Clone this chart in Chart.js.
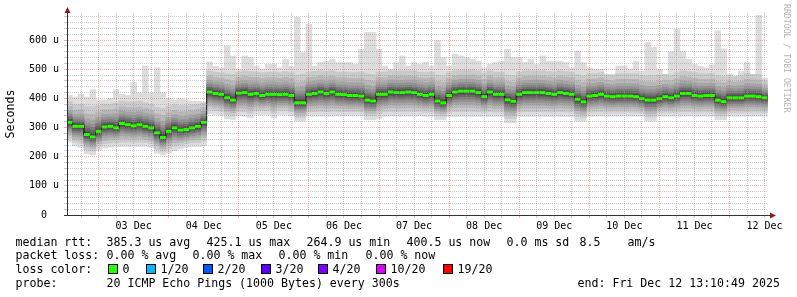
<!DOCTYPE html>
<html>
<head>
<meta charset="utf-8">
<script src="https://cdn.jsdelivr.net/npm/chart.js@4.4.1/dist/chart.umd.min.js"></script>
<style>
html, body { margin: 0; padding: 0; background: #fff; }
#wrap { position: relative; width: 797px; height: 297px; overflow: hidden; }
#c { position: absolute; left: 0; top: 0; }
.t { position: absolute; font: 11.6px "DejaVu Sans Mono", monospace; color: #000; white-space: pre; line-height: 14px; }
.box { position: absolute; width: 8px; height: 8px; border: 1px solid #000; }
#mark { position: absolute; left: 782px; top: 4px; font: 8.2px "DejaVu Sans Mono", monospace; color: #b4b4b4;
        writing-mode: vertical-rl; line-height: 10px; white-space: pre; }
</style>
</head>
<body>
<div id="wrap">
  <canvas id="c" width="797" height="297"></canvas>
  <div id="mark">RRDTOOL / TOBI OETIKER</div>
</div>
<script>
// 2-hour buckets from Dec 2 14:00 to Dec 12 12:00 (hours counted from Dec 2 00:00)
const START = 13.18, END = 253.18;
const dayLabels = ["03 Dec","04 Dec","05 Dec","06 Dec","07 Dec","08 Dec","09 Dec","10 Dec","11 Dec","12 Dec"];
const yLabels = ["0","100 u","200 u","300 u","400 u","500 u","600 u"];

// median rtt (microseconds)
const med = [
  318,304,304,276,268,287,302,304,299,314, 310,306,310,304,299,282,266,287,299,291,
  293,299,304,318,422,417,414,402,394,418, 420,414,417,410,414,414,413,414,410,385,
  385,414,417,422,417,422,414,413,410,410, 408,394,391,414,414,422,420,420,422,420,
  414,410,414,391,385,410,422,425,425,425, 420,406,422,414,414,395,390,414,420,420,
  420,420,417,414,420,417,414,397,388,408, 410,414,408,406,408,408,408,406,399,394,
  394,399,406,402,408,417,417,410,408,410, 410,394,389,402,402,402,408,408,406,402
];
// lowest ping
const pMin = [
  250,236,232,210,207,222,230,232,235,235, 235,235,235,235,232,212,206,212,220,226,
  232,235,235,238,348,345,342,330,328,340, 338,333,345,345,345,333,345,345,340,322,
  322,339,339,339,339,339,340,340,340,340, 340,327,327,330,339,339,339,339,339,339,
  340,338,338,327,327,338,338,338,338,338, 338,338,338,338,338,316,316,338,338,338,
  338,338,338,338,338,338,338,322,322,339, 339,339,339,339,339,339,339,339,339,322,
  322,339,339,339,339,339,339,339,339,339, 339,327,327,339,339,339,339,339,339,339
];
// second highest ping (top of the dense smoke)
const pHigh = [
  390,378,380,372,372,375,380,380,385,390, 388,388,390,385,380,370,365,372,378,375,
  375,378,380,385,495,490,488,485,482,490, 495,492,490,488,490,490,488,492,488,480,
  482,490,492,495,492,495,490,490,488,488, 490,485,482,490,490,495,495,495,495,495,
  490,488,490,480,478,488,495,498,498,498, 495,485,495,490,490,480,478,490,495,495,
  495,495,492,490,495,492,490,482,478,485, 485,488,480,478,485,485,485,485,478,478,
  478,480,482,480,488,495,492,488,485,485, 485,478,475,478,475,478,485,482,482,462
];
// highest ping
const pMax = [
  410,405,415,405,430,395,395,400,430,415, 410,455,420,512,420,505,420,400,395,400,
  395,390,390,385,525,510,505,580,545,500, 546,540,511,500,517,517,505,534,510,678,
  557,655,511,523,528,534,523,523,523,517, 569,626,626,569,511,500,523,546,511,523,
  517,523,511,598,540,511,552,546,540,534, 528,505,517,523,528,569,540,540,523,534,
  517,546,528,528,528,523,505,563,523,505, 500,500,483,483,511,511,500,528,494,592,
  575,500,483,560,638,563,534,517,510,505, 515,632,570,483,477,494,523,483,685,470
];

const rttStats = ["385.3 us avg","425.1 us max","264.9 us min","400.5 us now","0.0 ms sd","8.5","am/s"];
const lossStats = ["0.00 % avg","0.00 % max","0.00 % min","0.00 % now"];
const lossLevels = ["0","1/20","2/20","3/20","4/20","10/20","19/20"];
const lossColors = ["#26ff00","#00b8ff","#0059ff","#5e00ff","#7e00ff","#dd00ff","#ff0000"];
const probeText = "20 ICMP Echo Pings (1000 Bytes) every 300s";
const endText = "end: Fri Dec 12 13:10:49 2025";

const hours = med.map((_, i) => 14 + 2 * i);

// smoke bands, outermost first (smokeping style grey ramp)
const lowF = [1, 0.8, 0.65, 0.52, 0.41, 0.31, 0.22, 0.14, 0.08, 0.03];
const highF = [1, 1, 0.75, 0.56, 0.42, 0.31, 0.22, 0.14, 0.08, 0.03];
const datasets = [];
for (let k = 0; k < 10; k++) {
  const g = Math.floor(190 / 10 * (9 - k)) + 50;
  datasets.push({
    type: "bar",
    data: hours.map((h, i) => {
      const lo = k === 0 ? pMin[i] : med[i] - (med[i] - pMin[i]) * lowF[k];
      const hi = k === 0 ? pMax[i] : med[i] + (Math.min(pHigh[i], pMax[i]) - med[i]) * highF[k];
      return { x: h, y: [lo, hi] };
    }),
    backgroundColor: "rgb(" + g + "," + g + "," + g + ")",
    borderWidth: 0,
    grouped: false,
    barPercentage: 1,
    categoryPercentage: 1,
    order: 20 - k
  });
}
datasets.push({
  type: "line",
  data: hours.map((h, i) => ({ x: h, y: med[i] })),
  stepped: "middle",
  borderColor: "#111",
  borderWidth: 1,
  pointRadius: 0,
  order: 1
});
datasets.push({
  type: "line",
  data: hours.map((h, i) => ({ x: h, y: med[i] })),
  showLine: false,
  pointStyle: "line",
  pointRadius: 2.95,
  pointBorderWidth: 3,
  pointBorderColor: lossColors[0],
  pointBackgroundColor: lossColors[0],
  order: 0
});

const minorGrid = "rgba(150,150,150,0.5)";
const majorGrid = "rgba(225,70,70,0.42)";
const tickFont = { family: "DejaVu Sans Mono", size: 10 };

const arrows = {
  id: "arrows",
  afterDraw(chart) {
    const { ctx, chartArea: a } = chart;
    ctx.save();
    ctx.fillStyle = "#8b1c1c";
    ctx.strokeStyle = "#333";
    ctx.lineWidth = 1;
    ctx.beginPath();
    ctx.moveTo(a.right, a.bottom + 0.5); ctx.lineTo(a.right + 3, a.bottom + 0.5);
    ctx.moveTo(a.left + 0.5, a.top); ctx.lineTo(a.left + 0.5, a.top - 3);
    ctx.stroke();
    ctx.beginPath();
    ctx.moveTo(a.right + 8, a.bottom + 0.5);
    ctx.lineTo(a.right + 2, a.bottom - 2.5);
    ctx.lineTo(a.right + 2, a.bottom + 3.5);
    ctx.closePath(); ctx.fill();
    ctx.beginPath();
    ctx.moveTo(a.left + 0.5, a.top - 6);
    ctx.lineTo(a.left - 2.5, a.top);
    ctx.lineTo(a.left + 3.5, a.top);
    ctx.closePath(); ctx.fill();
    ctx.restore();
  }
};

new Chart(document.getElementById("c"), {
  type: "bar",
  data: { datasets: datasets },
  plugins: [arrows],
  options: {
    responsive: false,
    animation: false,
    events: [],
    layout: { padding: { top: 13, right: 29, left: 0, bottom: 0 } },
    plugins: { legend: { display: false }, tooltip: { enabled: false } },
    scales: {
      x: {
        type: "linear",
        min: START,
        max: END,
        offset: false,
        afterFit: s => { s.height = 82; },
        afterBuildTicks: s => {
          const t = [];
          for (let v = Math.ceil(START / 6) * 6; v < END; v += 6) t.push({ value: v });
          s.ticks = t;
        },
        grid: {
          offset: false,
          z: 1,
          tickLength: 3,
          color: c => (c.tick && c.tick.value % 24 === 0) ? majorGrid : minorGrid
        },
        border: { color: "#333", width: 1, dash: [1, 1], z: 2 },
        ticks: {
          autoSkip: false,
          maxRotation: 0,
          padding: 2,
          color: "#000",
          font: tickFont,
          callback: v => (v % 24 === 12) ? dayLabels[(v - 36) / 24] : ""
        }
      },
      y: {
        min: 0,
        max: 693,
        afterFit: s => { s.width = 67; },
        grid: {
          z: 1,
          tickLength: 3,
          color: c => (c.tick && c.tick.value === 0) ? "#333" : (c.tick && c.tick.value % 100 === 0 ? majorGrid : minorGrid)
        },
        border: { color: "#333", width: 1, dash: [1, 1], z: 2 },
        ticks: {
          stepSize: 20,
          includeBounds: false,
          autoSkip: false,
          crossAlign: "center",
          padding: 5,
          color: "#000",
          font: tickFont,
          callback: v => (v % 100 === 0) ? yLabels[v / 100] : ""
        },
        title: {
          display: true,
          text: "Seconds",
          color: "#000",
          font: { family: "DejaVu Sans Mono", size: 11.6 },
          padding: { top: 4, bottom: 0 }
        }
      }
    }
  }
});

// text legend below the graph
const wrap = document.getElementById("wrap");
function put(text, x, y) {
  const d = document.createElement("div");
  d.className = "t";
  d.style.left = x + "px";
  d.style.top = y + "px";
  d.textContent = text;
  wrap.appendChild(d);
}
const rttX = [107, 207, 307, 407, 507, 580, 628];
const lossX = [107, 193, 279, 366];
const boxX = [108, 146, 203, 261, 318, 376, 443];
put("median rtt:", 15.5, 234.5);
rttStats.forEach((s, i) => put(s, rttX[i] - 0.5, 234.5));
put("packet loss:", 15.5, 248);
lossStats.forEach((s, i) => put(s, lossX[i] - 0.5, 248));
put("loss color:", 15.5, 262.3);
lossLevels.forEach((s, i) => {
  const b = document.createElement("div");
  b.className = "box";
  b.style.left = boxX[i] + "px";
  b.style.top = "264px";
  b.style.background = lossColors[i];
  wrap.appendChild(b);
  put(s, boxX[i] + 14.5, 262.3);
});
put("probe:", 15.5, 276);
put(probeText, 106.5, 276);
put(endText, 577.5, 276);
</script>
</body>
</html>
